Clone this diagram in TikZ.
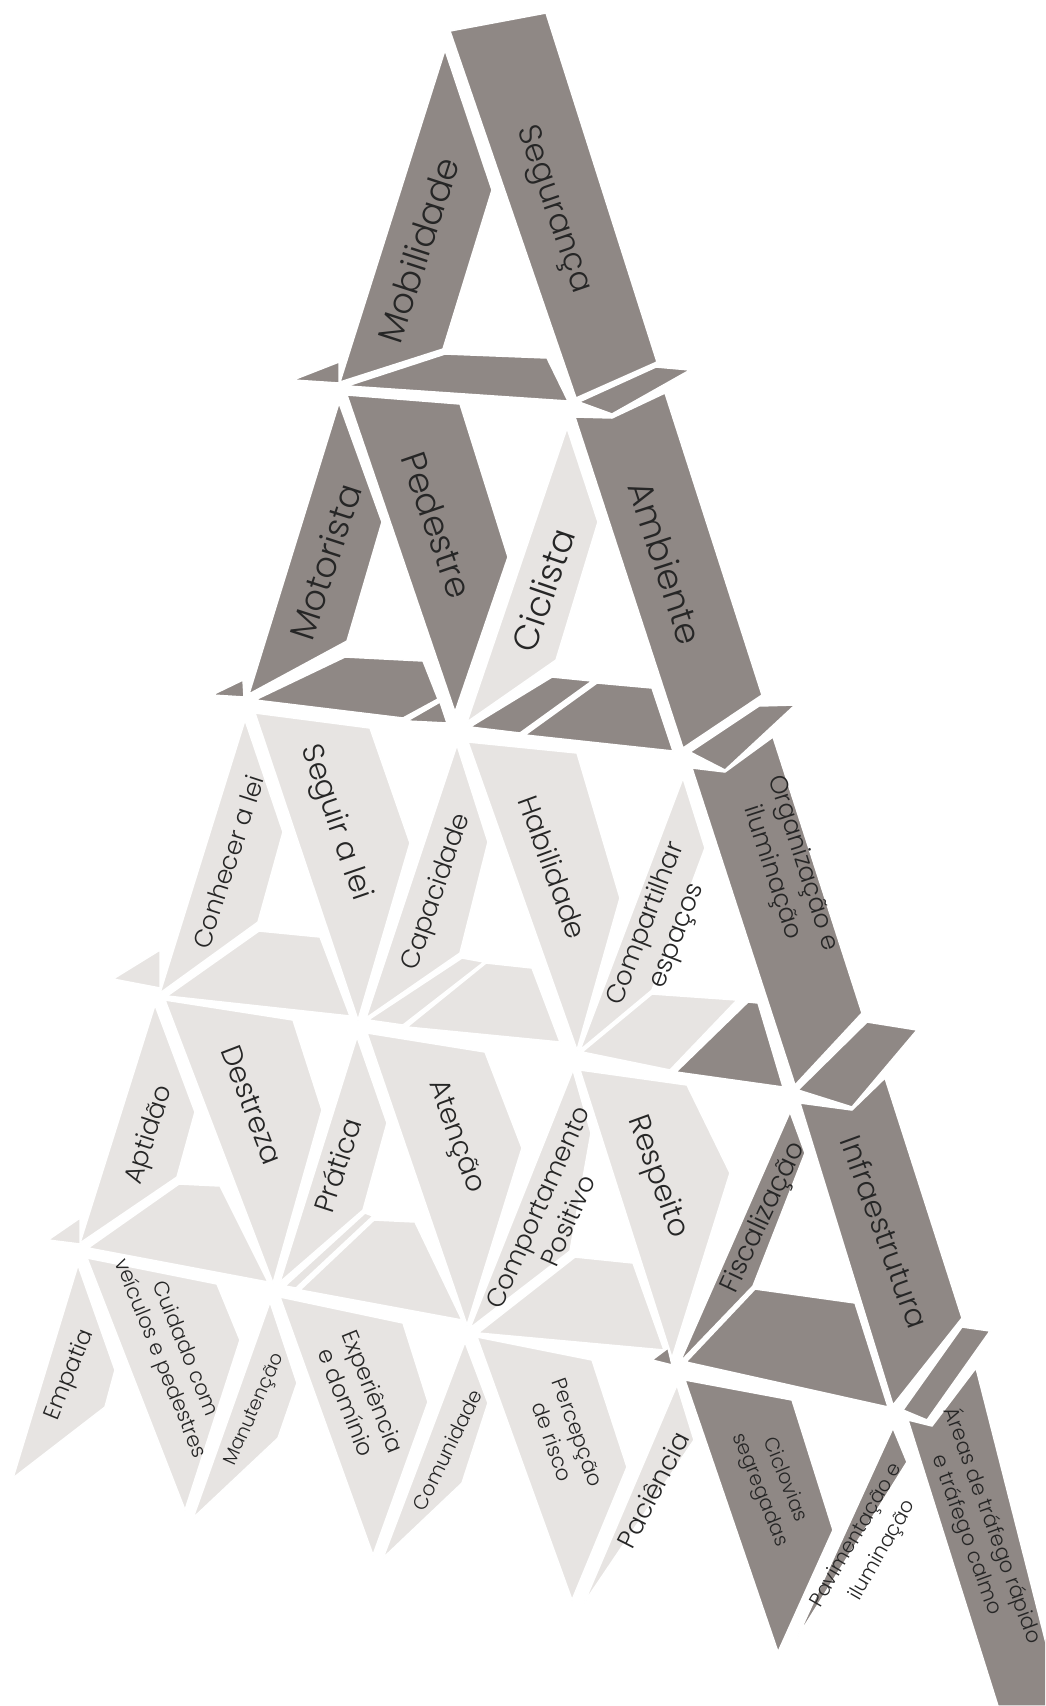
\documentclass[tikz,border=0pt]{standalone}
\usepackage{fontspec}
\setmainfont{Poppins}[UprightFont=* Light]
\usepackage{tikz}
\definecolor{cardD}{RGB}{143,136,133}
\definecolor{cardL}{RGB}{231,228,226}

\begin{document}
\begin{tikzpicture}[
      x=1pt, y=-1pt,
      darkcard/.style={fill=cardD, draw=white, line width=1.5pt, line join=round},
      lightcard/.style={fill=cardL, draw=white, line width=1.5pt, line join=round},
      cardtext/.style={text=black!85, align=center, inner sep=0pt},
      fs/.style 2 args={cardtext, font=\fontsize{#1}{#2}\selectfont}
    ]
    \useasboundingbox (0,0) rectangle (1045,1706);
    \clip (0,0) rectangle (1045,1706);

    % tier 1
    \path[darkcard] (445,50) -- (492,190) -- (443,349) -- (340,382) -- cycle;
    \path[darkcard] (450,31) -- (546,13) -- (657,362) -- (576,398) -- cycle;
    \path[darkcard] (293,380) -- (339,362) -- (339,383) -- cycle;
    \path[darkcard] (347,386) -- (445,354) -- (547,358) -- (568,401) -- cycle;
    \path[darkcard] (579,402) -- (656,367) -- (690,370) -- (612,414) -- cycle;

    % tier 2
    \path[darkcard] (339,403) -- (382,522) -- (347,641) -- (249,694) -- cycle;
    \path[darkcard] (347,395) -- (460,404) -- (508,557) -- (455,712) -- cycle;
    \path[lightcard] (567,428) -- (598,522) -- (556,660) -- (467,722) -- cycle;
    \path[darkcard] (575,417) -- (612,418) -- (665,393) -- (762,695) -- (683,748) -- cycle;
    \path[darkcard] (212,695) -- (243,680) -- (244,697) -- cycle;
    \path[darkcard] (255,700) -- (345,657) -- (423,661) -- (438,699) -- (403,718) -- cycle;
    \path[darkcard] (407,721) -- (440,702) -- (447,723) -- cycle;
    \path[darkcard] (470,727) -- (552,677) -- (592,681) -- (520,733) -- cycle;
    \path[darkcard] (525,735) -- (597,683) -- (652,688) -- (673,751) -- cycle;
    \path[darkcard] (690,752) -- (759,706) -- (795,705) -- (725,770) -- cycle;

    % tier 3
    \path[lightcard] (245,720) -- (283,832) -- (258,922) -- (160,993) -- cycle;
    \path[lightcard] (255,713) -- (370,728) -- (410,843) -- (358,1020) -- cycle;
    \path[lightcard] (457,745) -- (488,842) -- (460,953) -- (366,1018) -- cycle;
    \path[lightcard] (468,742) -- (577,753) -- (620,898) -- (577,1050) -- cycle;
    \path[lightcard] (683,778) -- (705,848) -- (652,990) -- (580,1050) -- cycle;
    \path[darkcard] (692,768) -- (725,772) -- (773,737) -- (862,1013) -- (795,1085) -- cycle;
    \path[lightcard] (113,979) -- (160,950) -- (160,988) -- cycle;
    \path[lightcard] (167,996) -- (259,931) -- (320,937) -- (350,1016) -- cycle;
    \path[lightcard] (368,1020) -- (462,958) -- (484,962) -- (403,1025) -- cycle;
    \path[lightcard] (407,1027) -- (486,963) -- (532,968) -- (560,1042) -- cycle;
    \path[lightcard] (582,1052) -- (652,994) -- (737,1000) -- (670,1070) -- cycle;
    \path[darkcard] (676,1072) -- (748,1002) -- (758,1003) -- (783,1087) -- cycle;
    \path[darkcard] (798,1090) -- (867,1022) -- (917,1030) -- (852,1107) -- cycle;

    % tier 4
    \path[lightcard] (155,1005) -- (195,1112) -- (177,1177) -- (80,1243) -- cycle;
    \path[lightcard] (165,1000) -- (293,1020) -- (322,1110) -- (273,1283) -- cycle;
    \path[lightcard] (357,1037) -- (387,1123) -- (363,1210) -- (280,1282) -- cycle;
    \path[lightcard] (367,1033) -- (485,1052) -- (522,1148) -- (467,1325) -- cycle;
    \path[lightcard] (573,1070) -- (591,1133) -- (570,1251) -- (470,1328) -- cycle;
    \path[lightcard] (580,1070) -- (687,1085) -- (730,1173) -- (672,1358) -- cycle;
    \path[darkcard] (790,1112) -- (805,1153) -- (753,1286) -- (680,1362) -- cycle;
    \path[darkcard] (800,1103) -- (852,1110) -- (885,1078) -- (962,1318) -- (893,1405) -- cycle;
    \path[lightcard] (48,1240) -- (80,1218) -- (80,1244) -- cycle;
    \path[lightcard] (88,1248) -- (179,1184) -- (220,1186) -- (268,1282) -- cycle;
    \path[lightcard] (285,1286) -- (365,1213) -- (373,1216) -- (296,1288) -- cycle;
    \path[lightcard] (300,1290) -- (374,1220) -- (415,1222) -- (462,1320) -- cycle;
    \path[lightcard] (478,1333) -- (575,1257) -- (633,1263) -- (664,1350) -- cycle;
    \path[darkcard] (652,1360) -- (668,1348) -- (672,1365) -- cycle;
    \path[darkcard] (686,1362) -- (755,1289) -- (855,1303) -- (888,1407) -- cycle;
    \path[darkcard] (903,1410) -- (962,1327) -- (990,1331) -- (927,1420) -- cycle;

    % tier 5
    \path[lightcard] (78,1265) -- (115,1370) -- (105,1407) -- (13,1478) -- cycle;
    \path[lightcard] (87,1258) -- (217,1284) -- (240,1340) -- (185,1510) -- cycle;
    \path[lightcard] (270,1302) -- (297,1383) -- (278,1438) -- (193,1518) -- cycle;
    \path[lightcard] (280,1297) -- (403,1323) -- (428,1402) -- (373,1555) -- cycle;
    \path[lightcard] (465,1342) -- (488,1403) -- (462,1483) -- (383,1558) -- cycle;
    \path[lightcard] (477,1337) -- (592,1360) -- (627,1467) -- (572,1600) -- cycle;
    \path[lightcard] (677,1385) -- (694,1440) -- (584,1603) -- cycle;
    \path[darkcard] (685,1380) -- (792,1400) -- (833,1530) -- (778,1652) -- cycle;
    \path[darkcard] (893,1428) -- (907,1462) -- (797,1638) -- cycle;
    \path[darkcard] (908,1420) -- (932,1426) -- (976,1368) -- (1062,1706) -- (998,1706) -- cycle;

    \node[fs={35}{38}, rotate=72] (tMob) at (418,250) {Mobilidade};
    \node[fs={32}{35}, rotate=-71] (tSeg) at (553,210) {Segurança};
    \node[fs={35}{38}, rotate=72] (tMot) at (325,562) {Motorista};
    \node[fs={35}{38}, rotate=-71] (tPed) at (437,525) {Pedestre};
    \node[fs={35}{38}, rotate=71] (tCic) at (543,590) {Ciclista};
    \node[fs={35}{38}, rotate=-72] (tAmb) at (666,563) {Ambiente};

    \node[fs={25}{28}, rotate=72] (tCon) at (228,862) {Conhecer a lei};
    \node[fs={30}{33}, rotate=-71] (tSeg2) at (335,823) {Seguir a lei};
    \node[fs={26}{29}, rotate=71] (tCap) at (437,892) {Capacidade};
    \node[fs={28}{31}, rotate=-70] (tHab) at (553,867) {Habilidade};
    \node[fs={26}{33}, rotate=69] (tCom) at (662,930) {Compartilhar\\espaços};
    \node[fs={25}{32}, rotate=-72] (tOrg) at (787,868) {Organização e\\iluminação};

    \node[fs={26}{29}, rotate=72] (tApt) at (150,1135) {Aptidão};
    \node[fs={29}{32}, rotate=-69] (tDes) at (252,1105) {Destreza};
    \node[fs={28}{31}, rotate=72] (tPra) at (337,1165) {Prática};
    \node[fs={28}{31}, rotate=-70] (tAte) at (455,1137) {Atenção};
    \node[fs={26}{33}, rotate=66] (tCpt) at (553,1214) {Comportamento\\Positivo};
    \node[fs={30}{33}, rotate=-70] (tRes) at (657,1177) {Respeito};
    \node[fs={27}{30}, rotate=65] (tFis) at (764,1218) {Fiscalização};
    \node[fs={30}{33}, rotate=-70] (tInf) at (885,1232) {Infraestrutura};

    \node[fs={23}{26}, rotate=68] (tEmp) at (70,1375) {Empatia};
    \node[fs={21}{27}, rotate=-68] (tCui) at (172,1354) {Cuidado com\\veículos e pedestres};
    \node[fs={19}{22}, rotate=66] (tMan) at (255,1410) {Manutenção};
    \node[fs={23}{29}, rotate=-68] (tExp) at (360,1397) {Experiência\\e domínio};
    \node[fs={20}{23}, rotate=64] (tCmd) at (447,1450) {Comunidade};
    \node[fs={21}{27}, rotate=-70] (tPer) at (565,1437) {Percepção\\de risco};
    \node[fs={26}{29}, rotate=63] (tPac) at (653,1490) {Paciência};
    \node[fs={20}{27}, rotate=-68] (tCiv) at (772,1485) {Ciclovias\\segregadas};
    \node[fs={20}{30}, rotate=60] (tPav) at (870,1543) {Pavimentação e\\iluminação};
    \node[fs={21}{27}, rotate=-70] (tAre) at (980,1530) {Áreas de tráfego rápido\\e tráfego calmo};
  \end{tikzpicture}
\end{document}
